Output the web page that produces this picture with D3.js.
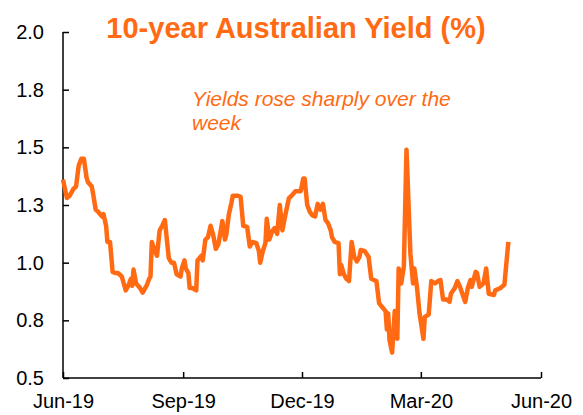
<!DOCTYPE html>
<html>
<head>
<meta charset="utf-8">
<script src="https://cdn.jsdelivr.net/npm/d3@7"></script>
<style>
  body { margin: 0; background: #fff; }
  text { font-family: "Liberation Sans", Arial, sans-serif; }
  .line { fill: none; stroke: #ff6a13; stroke-width: 4.5; stroke-linejoin: round; }
</style>
</head>
<body>
<section></section>
<script>
// data
var dates = [
  "2019-06-01","2019-06-04","2019-06-06","2019-06-09","2019-06-11","2019-06-13","2019-06-15","2019-06-17",
  "2019-06-19","2019-06-20","2019-06-23","2019-06-24","2019-06-26","2019-06-28","2019-07-01","2019-07-02",
  "2019-07-04","2019-07-05","2019-07-07","2019-07-09","2019-07-11","2019-07-13","2019-07-16","2019-07-19",
  "2019-07-21","2019-07-23","2019-07-24","2019-07-25","2019-07-27","2019-07-30","2019-08-01","2019-08-04",
  "2019-08-06","2019-08-07","2019-08-08","2019-08-10","2019-08-12","2019-08-14","2019-08-16","2019-08-18",
  "2019-08-19","2019-08-21","2019-08-23","2019-08-25","2019-08-27","2019-08-30","2019-08-31","2019-09-02",
  "2019-09-03","2019-09-05","2019-09-06","2019-09-08","2019-09-11","2019-09-12","2019-09-15","2019-09-16",
  "2019-09-18","2019-09-20","2019-09-22","2019-09-24","2019-09-26","2019-09-28","2019-10-01","2019-10-03",
  "2019-10-04","2019-10-06","2019-10-08","2019-10-09","2019-10-13","2019-10-15","2019-10-17","2019-10-20",
  "2019-10-22","2019-10-24","2019-10-27","2019-10-29","2019-10-30","2019-11-01","2019-11-03","2019-11-04",
  "2019-11-06","2019-11-08","2019-11-10","2019-11-12","2019-11-14","2019-11-16","2019-11-18","2019-11-21",
  "2019-11-23","2019-11-26","2019-11-30","2019-12-02","2019-12-03","2019-12-05","2019-12-07","2019-12-09",
  "2019-12-11","2019-12-13","2019-12-15","2019-12-17","2019-12-19","2019-12-21","2019-12-23","2019-12-24",
  "2019-12-26","2019-12-29","2019-12-30","2019-12-31","2020-01-02","2020-01-04","2020-01-06","2020-01-08",
  "2020-01-10","2020-01-12","2020-01-14","2020-01-15","2020-01-18","2020-01-21","2020-01-23","2020-01-25",
  "2020-01-27","2020-01-29","2020-01-31","2020-02-03","2020-02-04","2020-02-05","2020-02-06","2020-02-08",
  "2020-02-10","2020-02-12","2020-02-13","2020-02-15","2020-02-17","2020-02-19","2020-02-22","2020-02-24",
  "2020-02-25","2020-02-27","2020-02-29","2020-03-03","2020-03-04","2020-03-07","2020-03-09","2020-03-12",
  "2020-03-14","2020-03-16","2020-03-18","2020-03-21","2020-03-23","2020-03-24","2020-03-27","2020-03-29",
  "2020-03-31","2020-04-03","2020-04-04","2020-04-06","2020-04-08","2020-04-09","2020-04-12","2020-04-13",
  "2020-04-15","2020-04-18","2020-04-20","2020-04-22","2020-04-26","2020-04-27","2020-05-01","2020-05-04",
  "2020-05-07"
];
var yields = [
  1.36,1.28,1.29,1.32,1.33,1.42,1.45,1.45,
  1.37,1.35,1.33,1.30,1.23,1.22,1.20,1.21,
  1.16,1.09,1.09,0.96,0.955,0.955,0.94,0.88,
  0.90,0.93,0.90,0.97,0.91,0.89,0.87,0.90,
  0.93,0.94,1.09,1.055,1.03,1.14,1.16,1.185,
  1.13,1.02,1.00,1.00,0.95,0.94,0.975,1.01,
  0.975,0.955,0.89,0.89,0.88,1.01,1.03,1.01,
  1.10,1.11,1.16,1.12,1.06,1.08,1.18,1.10,
  1.12,1.21,1.26,1.29,1.29,1.285,1.16,1.155,
  1.07,1.09,1.085,1.05,1.00,1.05,1.085,1.19,
  1.10,1.135,1.15,1.125,1.25,1.14,1.20,1.28,
  1.29,1.31,1.31,1.365,1.365,1.25,1.22,1.205,
  1.20,1.255,1.23,1.255,1.185,1.17,1.14,1.11,
  1.09,1.085,0.95,0.99,0.95,0.93,0.92,1.09,
  1.025,1.005,1.025,1.055,1.05,1.025,0.93,0.925,
  0.92,0.825,0.81,0.79,0.71,0.78,0.665,0.61,
  0.79,0.67,0.975,0.91,0.985,1.49,1.04,0.91,
  0.975,0.895,0.78,0.67,0.765,0.775,0.92,0.91,
  0.92,0.925,0.84,0.84,0.83,0.865,0.89,0.92,
  0.895,0.845,0.83,0.89,0.925,0.895,0.96,0.955,
  0.895,0.91,0.975,0.865,0.86,0.88,0.89,0.905,
  1.09
];
var xTicks = ["2019-06-01","2019-09-01","2019-12-01","2020-03-01","2020-06-01"];
var xTickLabels = ["Jun-19","Sep-19","Dec-19","Mar-20","Jun-20"];
var yTicks = [0.5, 0.75, 1.0, 1.25, 1.5, 1.75, 2.0];
var yTickLabels = ["0.5","0.8","1.0","1.3","1.5","1.8","2.0"];

var orange = "#ff6a13";

// set the dimensions and margins of the chart
var margin = {top: 32, right: 42, bottom: 37, left: 63},
  width = 583 - margin.left - margin.right,
  height = 415 - margin.top - margin.bottom;

var svg = d3.select("section").append("svg")
      .attr("width", width + margin.left + margin.right)
      .attr("height", height + margin.top + margin.bottom),
    g = svg.append("g")
      .attr("transform", "translate(" + margin.left + "," + margin.top + ")");

var parse = d3.timeParse("%Y-%m-%d");

var data = dates.map(function(d, i) { return {date: parse(d), value: yields[i]}; });

var x = d3.scaleTime()
  .domain([parse(xTicks[0]), parse(xTicks[xTicks.length - 1])])
  .range([0, width]);

var y = d3.scaleLinear()
  .domain([0.5, 2.0])
  .range([height, 0]);

// axes, ticks pointing inward
var xAxis = g.append("g")
  .attr("transform", "translate(0," + height + ")")
  .call(d3.axisBottom(x)
    .tickValues(xTicks.map(parse))
    .tickSize(-6)
    .tickFormat(function(d, i) { return xTickLabels[i]; }));

xAxis.selectAll("text")
  .attr("y", 16)
  .style("font-size", "20px")
  .style("fill", "#000");

var yAxis = g.append("g")
  .call(d3.axisLeft(y)
    .tickValues(yTicks)
    .tickSize(-6)
    .tickFormat(function(d, i) { return yTickLabels[i]; }));

yAxis.selectAll("text")
  .attr("x", -19)
  .style("font-size", "20px")
  .style("fill", "#000");

g.selectAll(".domain, .tick line")
  .attr("stroke", "#000")
  .attr("stroke-width", 1.5);

xAxis.select(".domain").attr("d", "M0,0H" + width);
yAxis.select(".domain").attr("d", "M0,0V" + height);

// the line
var line = d3.line()
  .x(function(d) { return x(d.date); })
  .y(function(d) { return y(d.value); });

g.append("path")
  .datum(data)
  .attr("class", "line")
  .attr("d", line);

// title
svg.append("text")
  .attr("x", 296)
  .attr("y", 38)
  .attr("text-anchor", "middle")
  .style("font-size", "29px")
  .style("font-weight", "bold")
  .style("fill", orange)
  .text("10-year Australian Yield (%)");

// annotation
var note = svg.append("text")
  .attr("x", 192)
  .attr("y", 106)
  .style("font-size", "21px")
  .style("font-style", "italic")
  .style("fill", orange);

note.append("tspan").attr("x", 192).text("Yields rose sharply over the");
note.append("tspan").attr("x", 192).attr("dy", 24).text("week");
</script>
</body>
</html>
